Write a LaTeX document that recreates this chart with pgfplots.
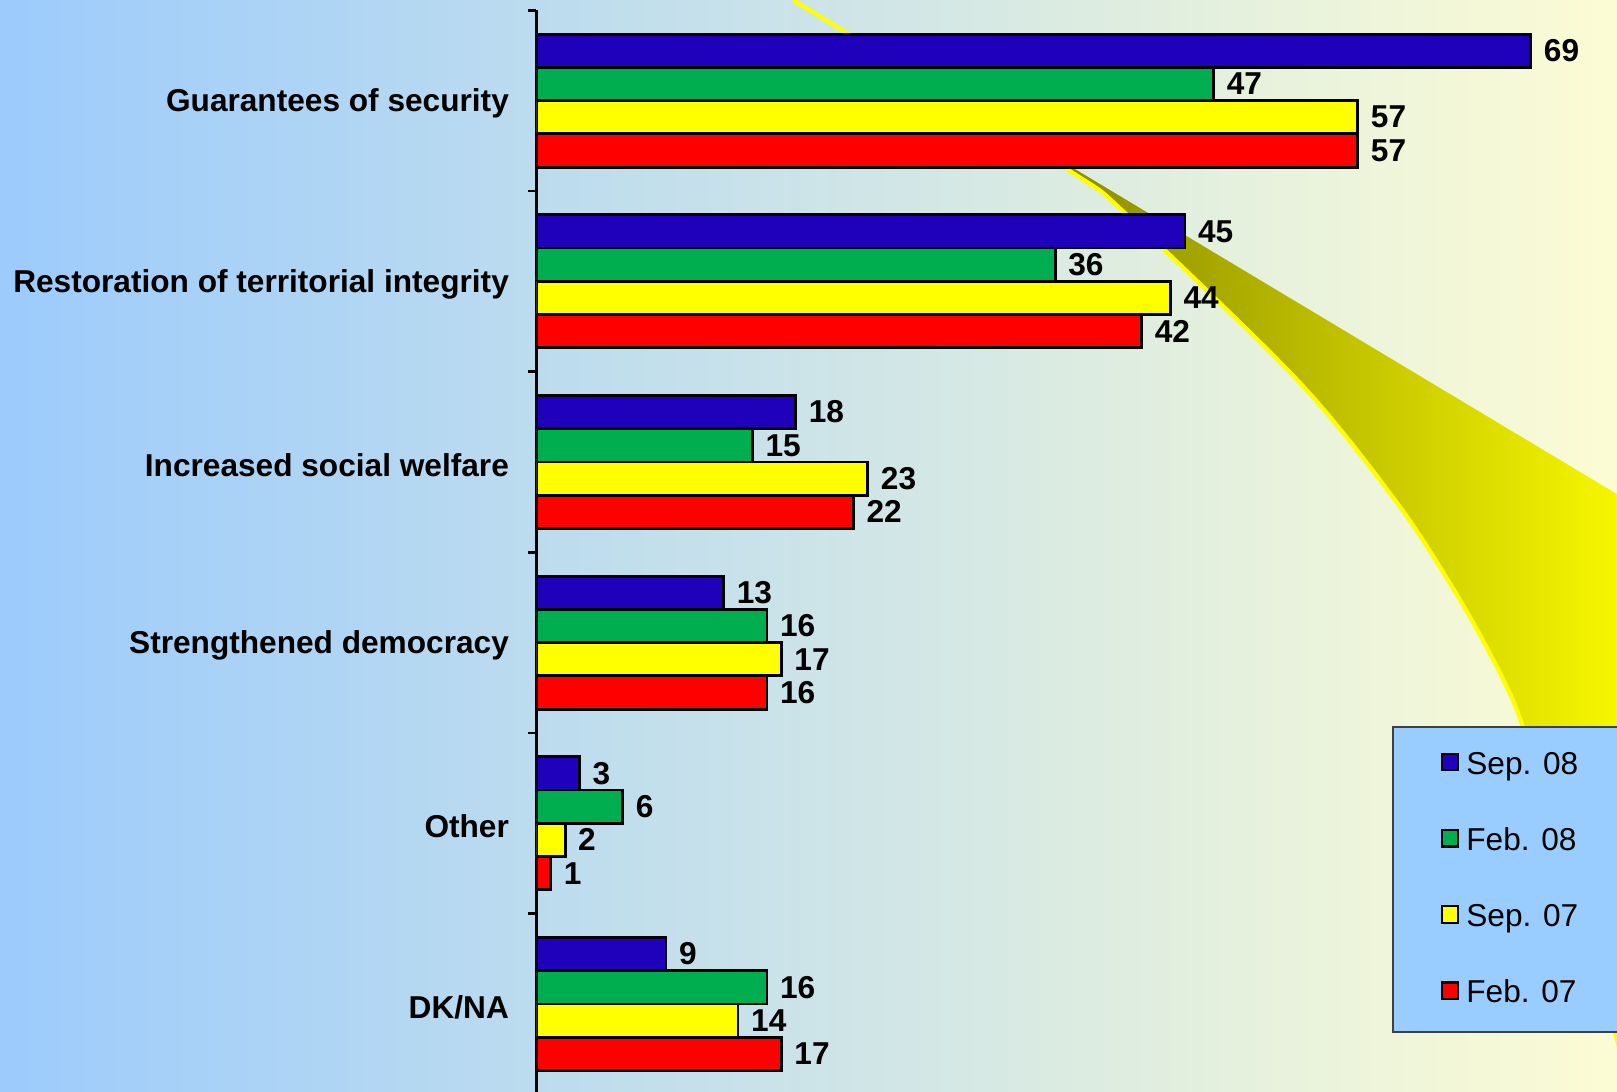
\documentclass[border=0pt]{standalone}
\usepackage{pgfplots}
\pgfplotsset{compat=1.18}
\usepackage{pgfplotstable}
\usepackage{fontspec}
\setmainfont{Liberation Sans}

\definecolor{bgblue}{RGB}{156,203,252}
\definecolor{bgyellow}{RGB}{252,252,212}
\definecolor{cSepA}{RGB}{31,0,187}
\definecolor{cFebA}{RGB}{0,174,80}
\definecolor{cSepB}{RGB}{255,255,0}
\definecolor{cFebB}{RGB}{255,0,0}
\definecolor{legblue}{RGB}{153,204,255}
\definecolor{swdark}{RGB}{86,86,0}
\definecolor{swlight}{RGB}{255,255,0}

% cat: 0 = top category
\pgfplotstableread{
cat sep08 feb08 sep07 feb07
0   69    47    57    57
1   45    36    44    42
2   18    15    23    22
3   13    16    17    16
4   3     6     2     1
5   9     16    14    17
}\answers

\begin{document}
\begin{tikzpicture}
\path[use as bounding box] (0,0) rectangle (16.17,10.92);
\clip (0,0) rectangle (16.17,10.92);
\shade[left color=bgblue, right color=bgyellow] (0,0) rectangle (16.17,10.92);

% yellow swoosh in the background
\shade[left color=swdark, right color=swlight]
  (7.93,10.92) -- (16.6,5.72) -- (16.6,0) --
  plot[smooth] coordinates {(16.3,0) (16.15,0.59) (15.95,1.1) (15.6,2.4) (15.23,3.65)
    (15.00,4.19) (14.60,4.92) (14.00,5.85) (13.00,7.09) (11.27,8.77) (10.65,9.24) (7.93,10.92)} -- cycle;
\draw[swlight, line width=1.2pt]
  plot[smooth] coordinates {(16.3,0) (16.15,0.59) (15.95,1.1) (15.6,2.4) (15.23,3.65)
    (15.00,4.19) (14.60,4.92) (14.00,5.85) (13.00,7.09) (11.27,8.77) (10.65,9.24) (7.93,10.92)};

% legend box
\filldraw[fill=legblue, draw=black!75, line width=0.8pt] (13.93,0.60) rectangle (16.6,3.65);

\begin{axis}[
    at={(5.363cm,10.817cm)}, anchor=north west,
    width=10.81cm, height=10.84cm, scale only axis,
    xmin=0, xmax=75, ymin=-0.5, ymax=5.5, y dir=reverse,
    axis x line=none, xtick=\empty,
    axis y line=left, y axis line style={-, line width=0.8pt},
    ytick={0,...,5},
    yticklabels={Guarantees of security, Restoration of territorial integrity,
        Increased social welfare, Strengthened democracy, Other, DK/NA},
    minor ytick={-0.5,0.5,...,5.5},
    major tick length=0pt, minor tick length=0.08cm, tick align=outside,
    minor tick style={line width=0.8pt, black},
    yticklabel style={font=\bfseries\fontsize{9}{10}\selectfont, xshift=-0.15cm, yshift=-0.03cm},
    xbar, bar width=0.184,
    every axis plot post/.append style={bar shift=0pt, draw=black, line width=0.8pt},
    point meta=x,
    nodes near coords,
    nodes near coords style={font=\bfseries\fontsize{9}{10}\selectfont, anchor=west,
        /pgf/number format/assume math mode=true},
    legend image code/.code={\draw[#1,/tikz/.cd, draw=black, line width=0.6pt]
        (0cm,-0.05cm) rectangle (0.165cm,0.115cm);},
    legend cell align=left,
    legend style={at={(0.8360,0.3268)}, anchor=north west, draw=none, fill=none,
        inner sep=0pt, row sep=0.27cm, column sep=0pt,
        font=\fontsize{9}{10}\selectfont,
        nodes={text height=0.75em, text depth=0.25em}},
]
\addplot[fill=cSepA] table[x=sep08, y expr=\thisrow{cat}-0.276] {\answers};
\addplot[fill=cFebA] table[x=feb08, y expr=\thisrow{cat}-0.092] {\answers};
\addplot[fill=cSepB] table[x=sep07, y expr=\thisrow{cat}+0.092] {\answers};
\addplot[fill=cFebB] table[x=feb07, y expr=\thisrow{cat}+0.276] {\answers};
\legend{Sep. 08, Feb. 08, Sep. 07, Feb. 07}
\end{axis}
\end{tikzpicture}
\end{document}
